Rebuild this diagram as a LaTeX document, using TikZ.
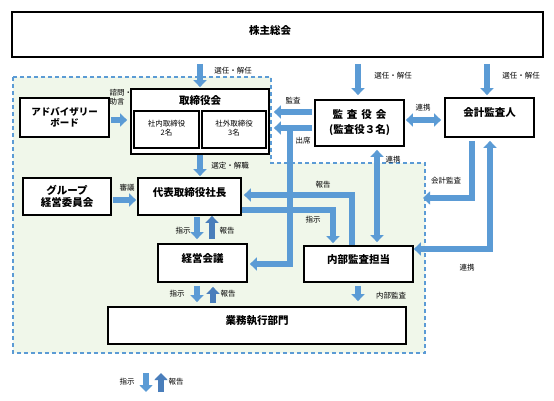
\documentclass[tikz,border=0pt]{standalone}
\usepackage{fontspec}
\setmainfont{Noto Sans CJK JP}
\usetikzlibrary{arrows.meta,calc}
\definecolor{ab}{HTML}{5B9BD5}
\definecolor{abd}{HTML}{4A7EBB}
\definecolor{zone}{HTML}{F0F7EA}
\begin{document}
\begin{tikzpicture}[x=1pt,y=-1pt,
  box/.style={draw=black, line width=1.8pt, fill=white, inner sep=0pt, align=center,
              font=\fontsize{10.5}{12}\selectfont\bfseries},
  ibox/.style={box, line width=1.4pt, font=\fontsize{7.5}{9}\selectfont},
  lbl/.style={font=\fontsize{7.5}{9}\selectfont, inner sep=0pt},
  blk/.style={draw=ab, line width=6pt, -{Triangle[length=7pt,width=13pt]}, line join=miter},
  blkd/.style={blk, draw=abd},
  dbl/.style={draw=ab, line width=6pt, line join=miter,
              {Triangle[length=7pt,width=13pt]}-{Triangle[length=7pt,width=13pt]}},
  up/.style={text depth=10pt},
]
\useasboundingbox (0,0) rectangle (554,401);

% company zone
\fill[zone] (13,77) -- (271,77) -- (271,163) -- (425,163) -- (425,353) -- (13,353) -- cycle;
\draw[ab, line width=1.5pt, dash pattern=on 4pt off 3pt]
  (13,77) -- (271,77) -- (271,163) -- (425,163) -- (425,353) -- (13,353) -- cycle;

% label hidden partly by the board box
\node[lbl, anchor=west, align=left] (l_shimon) at (109.5,97) {諮問・\\助言};

% boxes
\node[box, up, minimum width=531pt, minimum height=45pt] (sh) at (277.5,34.5) {株主総会\hspace*{15pt}};
\node[box, minimum width=89pt, minimum height=39pt, font=\fontsize{9.5}{11}\selectfont\bfseries] (adv) at (64.5,117.5) {アドバイザリー\\ボード};
\node[box, minimum width=138pt, minimum height=65pt,
      label={[font=\fontsize{10.5}{12}\selectfont\bfseries, anchor=center, yshift=-12pt]north:取締役会}] (tori) at (200,121.5) {};
\node[ibox, minimum width=65pt, minimum height=37pt, text depth=4pt] (in1) at (166.5,129.5) {社内取締役\\2名};
\node[ibox, minimum width=64pt, minimum height=37pt, text depth=4pt] (in2) at (234,129.5) {社外取締役\\3名};
\node[box, minimum width=89pt, minimum height=46pt, font=\fontsize{10.5}{15}\selectfont\bfseries] (kansa) at (359.5,123) {監\kern4pt 査\kern4pt 役\kern4pt 会\\(監査役３名)};
\node[box, up, minimum width=89pt, minimum height=39pt] (kaikei) at (489.5,117.5) {会計監査人};
\node[box, minimum width=88pt, minimum height=37pt, font=\fontsize{10.5}{12}\selectfont\bfseries] (group) at (67,196.5) {グループ\\経営委員会};
\node[box, text depth=8pt, minimum width=103pt, minimum height=37pt] (pres) at (189.5,196.5) {代表取締役社長};
\node[box, up, minimum width=89pt, minimum height=38pt] (keiei) at (202.5,263) {経営会議};
\node[box, up, minimum width=109pt, minimum height=36pt] (naibu) at (358.5,264) {内部監査担当};
\node[box, up, minimum width=298pt, minimum height=37pt] (gyomu) at (257,325.5) {業務執行部門};

% coordinates
\coordinate (j1) at (290,128);
\coordinate (zr) at (425,198);
\coordinate (lg1a) at (146,373);
\coordinate (lg1b) at (146,392);
\coordinate (lg2a) at (161,392);
\coordinate (lg2b) at (161,373);

% arrows from shareholders
\draw[blk, shorten <=6pt, shorten >=1pt] (tori.north |- sh.south) -- (tori.north);
\draw[blk, shorten <=6pt, shorten >=4pt] (sh.south -| 358,0) -- (kansa.north -| 358,0);
\draw[blk, shorten <=6pt, shorten >=2pt] (sh.south -| 487,0) -- (kaikei.north -| 487,0);
\node[lbl] (l_s1) at (233,71) {選任・解任};
\node[lbl] (l_s2) at (393,76) {選任・解任};
\node[lbl] (l_s3) at (521,76) {選任・解任};

% advisory
\draw[blk, shorten <=1pt, shorten >=3pt] (adv.east |- 0,120) -- (tori.west |- 0,120);

% board -> president
\draw[blk, shorten >=1pt] (tori.south) -- (tori.south |- pres.north);
\node[lbl] (l_sentei) at (230,166) {選定・解職};

% group committee
\draw[blk, shorten <=1pt, shorten >=1pt] (group.east |- 0,200) -- (pres.west |- 0,200);
\node[lbl] (l_shingi) at (127,188) {審議};

% president <-> management meeting
\draw[blk, shorten <=1pt, shorten >=4pt] (pres.south -| 197,0) -- (keiei.north -| 197,0);
\draw[blkd, shorten <=4pt, shorten >=0pt] (keiei.north -| 212,0) -- (pres.south -| 212,0);
\node[lbl] (l_shiji1) at (183,231) {指示};
\node[lbl] (l_hokoku1) at (227,231) {報告};

% management meeting <-> business units
\draw[blk, shorten <=3pt, shorten >=4pt] (keiei.south -| 197,0) -- (gyomu.north -| 197,0);
\draw[blkd, shorten <=3pt, shorten >=4pt] (gyomu.north -| 213,0) -- (keiei.south -| 213,0);
\node[lbl] (l_shiji2) at (177,294) {指示};
\node[lbl] (l_hokoku2) at (228,294) {報告};

% internal audit -> business units
\draw[blk, shorten <=3pt, shorten >=5pt] (naibu.south -| 358,0) -- (gyomu.north -| 358,0);
\node[lbl] (l_naibu) at (391,296) {内部監査};

% audit board -> board
\draw[blk, shorten <=2pt, shorten >=4pt] (kansa.west |- 0,112) -- (tori.east |- 0,112);
\draw[blk, shorten <=2pt, shorten >=4pt] (kansa.west |- 0,128) -- (tori.east |- 0,128);
\draw[blk, shorten >=2pt] (j1) |- (keiei.east |- 0,264);
\node[lbl] (l_kansa) at (293,101) {監査};
\node[lbl] (l_shusseki) at (303,141) {出席};

% president <-> internal audit
\draw[blk, shorten >=2pt] (naibu.north -| 352,0) |- (pres.east |- 0,195);
\draw[blk, shorten >=2pt] (pres.east |- 0,210) -| (naibu.north -| 333,0);
\node[lbl] (l_hokoku3) at (323,185) {報告};
\node[lbl] (l_shiji3) at (313,220) {指示};

% audit board <-> internal audit
\draw[dbl, shorten <=3pt, shorten >=3pt] (kansa.south -| 377,0) -- (naibu.north -| 377,0);
\node[lbl] (l_renkei1) at (393,160) {連携};

% audit board <-> accounting auditor
\draw[dbl, shorten <=1pt, shorten >=3pt] (kansa.east |- 0,120) -- (kaikei.west |- 0,120);
\node[lbl] (l_renkei2) at (423,108) {連携};

% accounting auditor -> company
\draw[blk, shorten <=3pt, shorten >=-2pt] (kaikei.south -| 472,0) |- (zr);
\node[lbl] (l_kaikei) at (446,181) {会計監査};

% accounting auditor <-> internal audit
\draw[dbl, shorten <=3pt, shorten >=0pt] (kaikei.south -| 490,0) |- (naibu.east |- 0,249);
\node[lbl] (l_renkei3) at (467,268) {連携};

% legend
\draw[blk] (lg1a) -- (lg1b);
\draw[blkd] (lg2a) -- (lg2b);
\node[lbl] (lg_shiji) at (127,382) {指示};
\node[lbl] (lg_hokoku) at (176,382) {報告};
\end{tikzpicture}
\end{document}
